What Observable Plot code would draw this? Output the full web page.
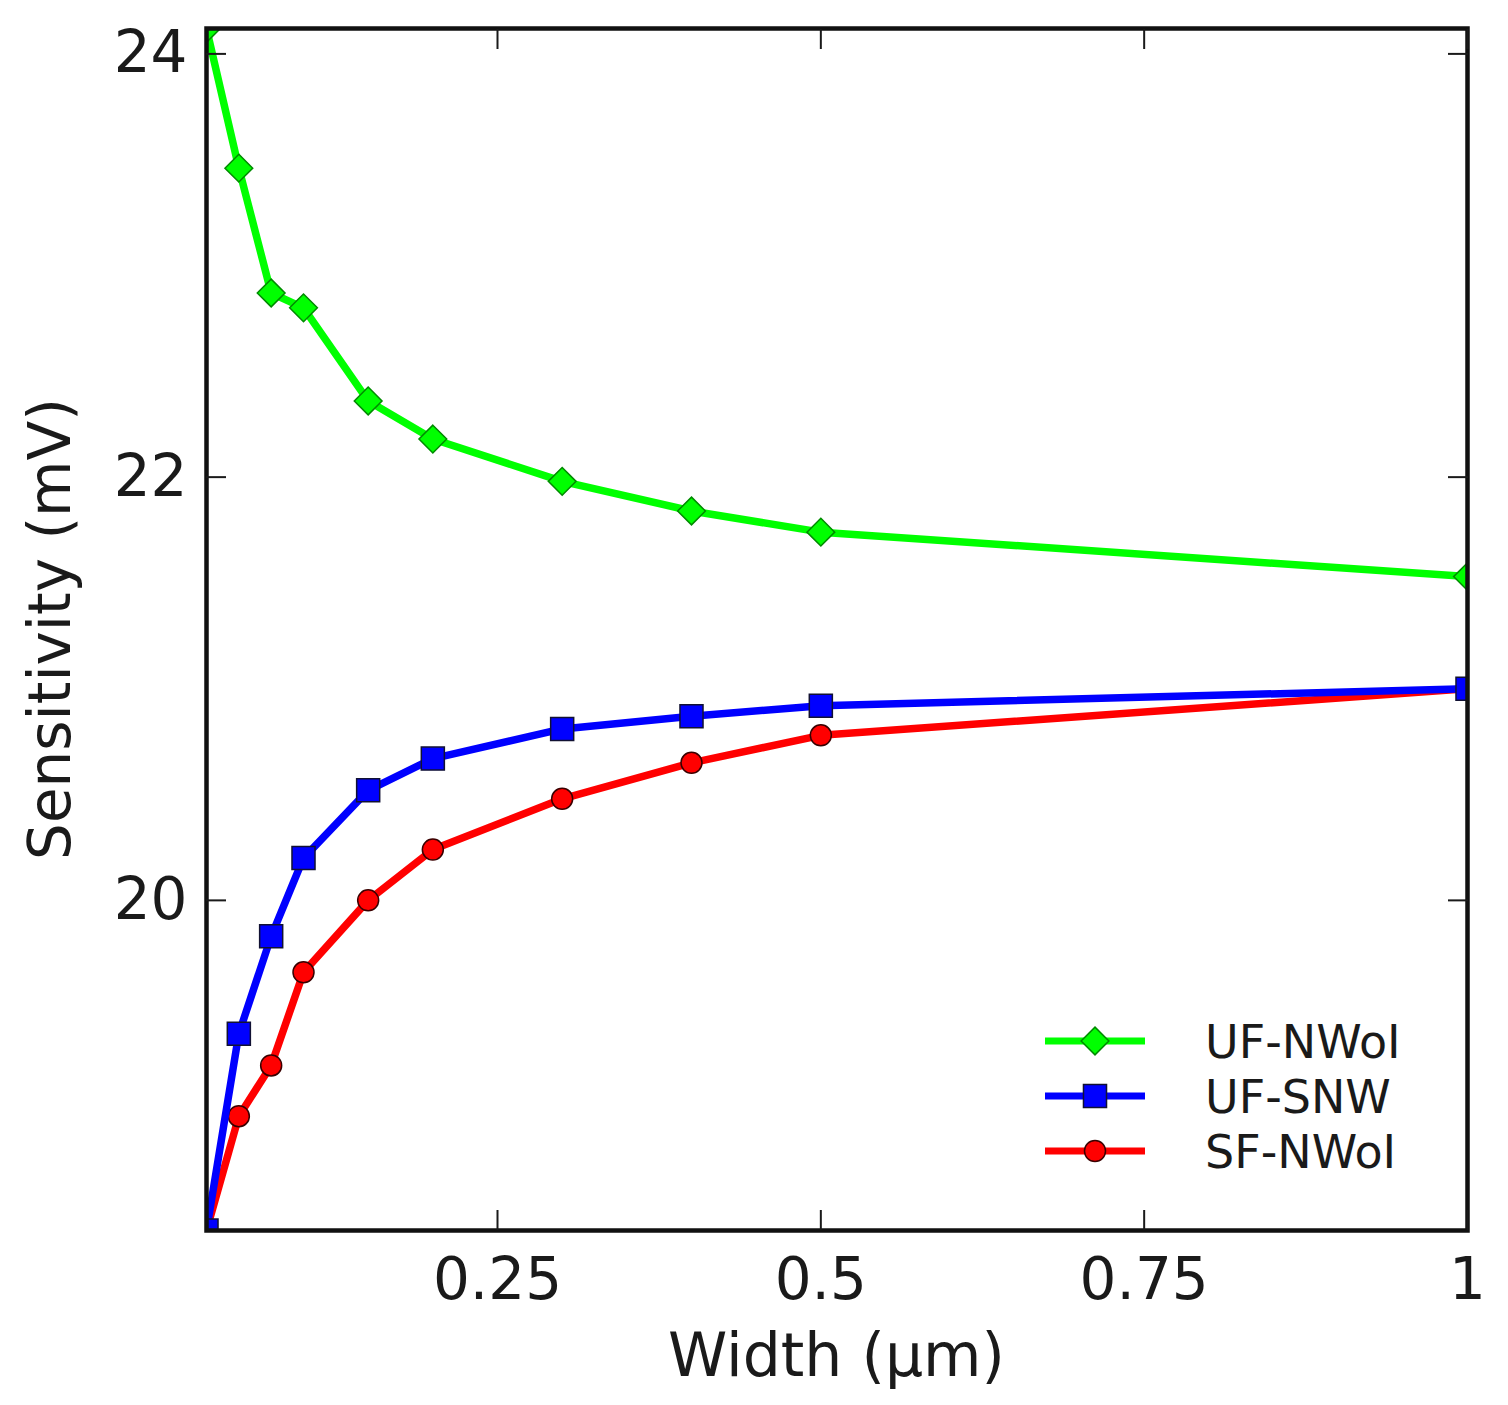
<!DOCTYPE html>
<html>
<head>
<meta charset="utf-8">
<script src="https://cdn.jsdelivr.net/npm/d3@7"></script>
<script src="https://cdn.jsdelivr.net/npm/@observablehq/plot@0.6"></script>
<style>
  body { margin: 0; background: #fff; }
  svg { font-family: "DejaVu Sans", sans-serif; }
</style>
</head>
<body>
<div id="chart"></div>
<script>
// width of the nanowire (µm)
const widths = [0.025, 0.05, 0.075, 0.1, 0.15, 0.2, 0.3, 0.4, 0.5, 1.0];

// sensitivity (mV) for each structure
const ufNwoi = [24.12, 23.46, 22.87, 22.80, 22.36, 22.18, 21.98, 21.84, 21.74, 21.53];
const ufSnw  = [18.44, 19.37, 19.83, 20.20, 20.52, 20.67, 20.81, 20.87, 20.92, 21.00];
const sfNwoi = [18.44, 18.98, 19.22, 19.66, 20.00, 20.24, 20.48, 20.65, 20.78, 21.00];

const seriesNames = ["UF-NWoI", "UF-SNW", "SF-NWoI"];
const xTicks = [0.25, 0.5, 0.75, 1];
const yTicks = [20, 22, 24];
const xLabel = "Width (µm)";
const yLabel = "Sensitivity (mV)";

const styles = {
  "UF-NWoI": {color: "#00ff00", edge: "#008a00", symbol: "diamond2", r: 12.5},
  "UF-SNW":  {color: "#0000ff", edge: "#111133", symbol: "square", r: 13},
  "SF-NWoI": {color: "#ff0000", edge: "#3a0000", symbol: "circle", r: 10.5}
};

const values = {"UF-NWoI": ufNwoi, "UF-SNW": ufSnw, "SF-NWoI": sfNwoi};
const rows = seriesNames.flatMap(name =>
  widths.map((w, i) => ({name, width: w, value: values[name][i]})));

// draw order: red under blue under green
const drawOrder = ["SF-NWoI", "UF-SNW", "UF-NWoI"];

const seriesMarks = drawOrder.flatMap(name => {
  const s = styles[name];
  const data = rows.filter(d => d.name === name);
  return [
    Plot.line(data, {x: "width", y: "value", stroke: s.color, strokeWidth: 7.5, clip: "frame"}),
    Plot.dot(data, {x: "width", y: "value", symbol: () => s.symbol, r: s.r,
      fill: s.color, stroke: s.edge, strokeWidth: 1.5, clip: "frame"})
  ];
});

// legend inside the frame (bottom-right) plus the two axis titles
function extras(index, scales, vals, dims) {
  const g = d3.create("svg:g").attr("fill", "#1a1a1a");
  const left = dims.marginLeft;
  const right = dims.width - dims.marginRight;
  const top = dims.marginTop;
  const bottom = dims.height - dims.marginBottom;
  seriesNames.forEach((name, i) => {
    const s = styles[name];
    const y = bottom - 189 + i * 55;
    g.append("line")
      .attr("x1", right - 422).attr("x2", right - 322)
      .attr("y1", y).attr("y2", y)
      .attr("stroke", s.color).attr("stroke-width", 7);
    const sym = s.symbol === "diamond2" ? d3.symbolDiamond2
      : s.symbol === "square" ? d3.symbolSquare : d3.symbolCircle;
    g.append("path")
      .attr("transform", `translate(${right - 372},${y})`)
      .attr("d", d3.symbol(sym, Math.PI * s.r * s.r)())
      .attr("fill", s.color).attr("stroke", s.edge).attr("stroke-width", 1.5);
    g.append("text")
      .attr("x", right - 262).attr("y", y).attr("dy", "0.36em")
      .attr("text-anchor", "start")
      .attr("font-size", 46)
      .text(name);
  });
  g.append("text")
    .attr("x", (left + right) / 2).attr("y", bottom + 146)
    .attr("text-anchor", "middle")
    .attr("font-size", 60)
    .text(xLabel);
  g.append("text")
    .attr("transform", `translate(${left - 136},${(top + bottom) / 2}) rotate(-90)`)
    .attr("text-anchor", "middle")
    .attr("font-size", 58)
    .text(yLabel);
  return g.node();
}

const chart = Plot.plot({
  width: 1508,
  height: 1405,
  marginLeft: 206,
  marginRight: 41,
  marginTop: 28,
  marginBottom: 175,
  style: {fontFamily: "DejaVu Sans, sans-serif", color: "#1a1a1a"},
  x: {domain: [0.025, 1]},
  y: {domain: [18.44, 24.12]},
  marks: [
    ...seriesMarks,
    Plot.frame({stroke: "#111", strokeWidth: 4.5}),
    Plot.axisX(xTicks, {anchor: "bottom", tickSize: -20, tickPadding: 47, fontSize: 58,
      strokeWidth: 2, tickFormat: d => String(d), label: null}),
    Plot.axisX(xTicks, {anchor: "top", tickSize: -20, tickFormat: () => "", strokeWidth: 2, label: null}),
    Plot.axisY(yTicks, {anchor: "left", tickSize: -20, tickPadding: 39, fontSize: 58,
      strokeWidth: 2, tickFormat: d => String(d), label: null}),
    Plot.axisY(yTicks, {anchor: "right", tickSize: -20, tickFormat: () => "", strokeWidth: 2, label: null}),
    extras
  ]
});

document.getElementById("chart").append(chart);
</script>
</body>
</html>
